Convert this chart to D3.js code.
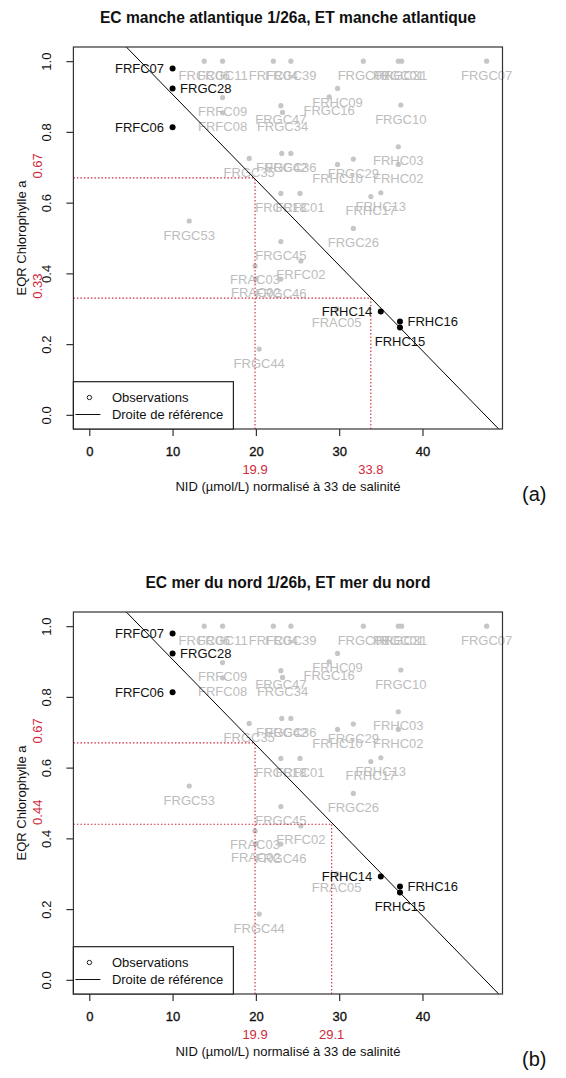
<!DOCTYPE html>
<html>
<head>
<meta charset="utf-8">
<script src="https://cdn.jsdelivr.net/npm/d3@7"></script>
<style>
  body { margin: 0; background: #fff; }
  svg { display: block; }
  text { font-family: "Liberation Sans", Arial, sans-serif; }
</style>
</head>
<body>
<svg id="chart" width="566" height="1078"></svg>
<script>
// Other water bodies (drawn in grey)
const greyNames = ["FRGC06","FRGC11","FRFC04","FRGC39","FRGC08","FRGC01","FRGC31","FRGC07",
  "FRFC09","FRFC08","FRGC47","FRGC34","FRHC09","FRGC16","FRGC10","FRHC03","FRHC02","FRGC29",
  "FRHC10","FRGC42","FRGC36","FRGC35","FRGC18","FRFC01","FRHC17","FRHC13","FRGC26","FRGC53",
  "FRGC45","FRFC02","FRAC03","FRAC02","FRGC46","FRGC44","FRAC05"];
const greyNid = [13.8,16.0,22.1,24.2,32.9,37.1,37.5,47.7,
  16.0,16.0,23.0,23.2,29.8,28.8,37.4,37.1,37.1,31.7,
  29.8,23.1,24.2,19.2,23.0,25.3,33.8,35.0,31.7,12.0,
  23.0,25.4,19.9,20.0,23.0,20.4,29.7];
const greyEqr = [1.0,1.0,1.0,1.0,1.0,1.0,1.0,1.0,
  0.897,0.854,0.874,0.855,0.923,0.899,0.876,0.758,0.708,0.723,
  0.708,0.739,0.739,0.725,0.626,0.626,0.617,0.628,0.527,0.548,
  0.490,0.435,0.421,0.385,0.384,0.186,0.300];

// Highlighted water bodies (drawn in black)
const keyNames = ["FRFC07","FRGC28","FRFC06","FRHC14","FRHC16","FRHC15"];
const keyNid = [10.0,10.0,10.0,35.0,37.3,37.3];
const keyEqr = [0.979,0.923,0.813,0.292,0.264,0.247];
const keySide = ["left","right","left","left","right","below"];

// Reference line: NID value at EQR = 1 and at EQR = 0
const refNid = [6.1, 47.5];
const refEqr = [1, 0];

// Axes
const xTicks = [0, 10, 20, 30, 40];
const yTicks = [0, 0.2, 0.4, 0.6, 0.8, 1.0];

// Panels
const panelTitles = ["EC manche atlantique 1/26a, ET manche atlantique",
                     "EC mer du nord 1/26b, ET mer du nord"];
const panelTags = ["(a)", "(b)"];
const classEqr = [[0.67, 0.33], [0.67, 0.44]];
const classNid = [[19.9, 33.8], [19.9, 29.1]];

const RED = "#d0283a";
const GREY_PT = "#c6c6c6";
const GREY_TX = "#bdbdbd";

const svg = d3.select("#chart");

function pad(ext) {
  const r = ext[1] - ext[0];
  return [ext[0] - 0.04 * r, ext[1] + 0.04 * r];
}

function drawPanel(p, dy) {
  const left = 73.4, right = 502.5, top = 47 + dy, bottom = 429 + dy;
  const allNid = [0].concat(greyNid, keyNid);
  const x = d3.scaleLinear().domain(pad(d3.extent(allNid))).range([left, right]);
  const y = d3.scaleLinear().domain(pad([0, 1])).range([bottom, top]);

  const g = svg.append("g");
  const clipId = "clip" + p;
  g.append("clipPath").attr("id", clipId)
    .append("rect").attr("x", left).attr("y", top)
    .attr("width", right - left).attr("height", bottom - top);

  // title
  g.append("text").attr("x", (left + right) / 2).attr("y", top - 24.5)
    .attr("text-anchor", "middle").attr("font-size", 15.6).attr("font-weight", "bold")
    .attr("fill", "#111").text(panelTitles[p]);

  // grey points and labels
  const gi = d3.range(greyNames.length);
  g.append("g").selectAll("circle").data(gi).join("circle")
    .attr("cx", i => x(greyNid[i])).attr("cy", i => y(greyEqr[i]))
    .attr("r", 2.6).attr("fill", GREY_PT);
  g.append("g").selectAll("text").data(gi).join("text")
    .attr("x", i => x(greyNid[i])).attr("y", i => y(greyEqr[i]) + 18.5)
    .attr("text-anchor", "middle").attr("font-size", 13).attr("fill", GREY_TX)
    .text(i => greyNames[i]);

  // class boundaries (dotted red)
  const clip = g.append("g").attr("clip-path", `url(#${clipId})`);
  classEqr[p].forEach((e, k) => {
    const n = classNid[p][k];
    clip.append("line").attr("x1", left).attr("x2", x(n))
      .attr("y1", y(e)).attr("y2", y(e))
      .attr("stroke", RED).attr("stroke-width", 1.1).attr("stroke-dasharray", "1.5,2");
    clip.append("line").attr("x1", x(n)).attr("x2", x(n))
      .attr("y1", bottom).attr("y2", y(e))
      .attr("stroke", RED).attr("stroke-width", 1.1).attr("stroke-dasharray", "1.5,2");
  });

  // reference line, extended across the plot
  const slope = (refEqr[1] - refEqr[0]) / (refNid[1] - refNid[0]);
  const f = v => refEqr[0] + slope * (v - refNid[0]);
  const xd = x.domain();
  clip.append("line")
    .attr("x1", x(xd[0])).attr("y1", y(f(xd[0])))
    .attr("x2", x(xd[1])).attr("y2", y(f(xd[1])))
    .attr("stroke", "#000").attr("stroke-width", 1);

  // highlighted points and labels
  const ki = d3.range(keyNames.length);
  g.append("g").selectAll("circle").data(ki).join("circle")
    .attr("cx", i => x(keyNid[i])).attr("cy", i => y(keyEqr[i]))
    .attr("r", 3).attr("fill", "#000");
  g.append("g").selectAll("text").data(ki).join("text")
    .attr("x", i => keySide[i] === "left" ? x(keyNid[i]) - 8.5
                  : keySide[i] === "right" ? x(keyNid[i]) + 7.5 : x(keyNid[i]))
    .attr("y", i => keySide[i] === "below" ? y(keyEqr[i]) + 18.5 : y(keyEqr[i]) + 4.6)
    .attr("text-anchor", i => keySide[i] === "left" ? "end" : keySide[i] === "right" ? "start" : "middle")
    .attr("font-size", 13).attr("fill", "#111")
    .text(i => keyNames[i]);

  // box
  g.append("rect").attr("x", left).attr("y", top)
    .attr("width", right - left).attr("height", bottom - top)
    .attr("fill", "none").attr("stroke", "#333").attr("stroke-width", 1.2);

  // x axis (tick labels are drawn twice over, hence heavier)
  const xa = g.append("g").attr("transform", `translate(0,${bottom})`)
    .call(d3.axisBottom(x).tickValues(xTicks).tickSize(7).tickPadding(11).tickFormat(d3.format("d")));
  xa.select(".domain").remove();
  xa.selectAll("line").attr("stroke", "#333").attr("stroke-width", 1.2);
  xa.selectAll("text").attr("font-size", 13).attr("fill", "#111")
    .attr("stroke", "#111").attr("stroke-width", 0.35)
    .attr("font-family", "Liberation Sans, Arial, sans-serif");

  // y axis (labels parallel to the axis)
  const ya = g.append("g").attr("transform", `translate(${left},0)`)
    .call(d3.axisLeft(y).tickValues(yTicks).tickSize(7).tickFormat(d3.format(".1f")));
  ya.select(".domain").remove();
  ya.selectAll("line").attr("stroke", "#333").attr("stroke-width", 1.2);
  ya.selectAll("text")
    .attr("x", null).attr("dy", null)
    .attr("text-anchor", "middle").attr("dominant-baseline", "central")
    .attr("transform", "translate(-27,0) rotate(-90)")
    .attr("font-size", 13).attr("fill", "#111")
    .attr("font-family", "Liberation Sans, Arial, sans-serif");

  // class boundary values
  classNid[p].forEach(n => {
    g.append("text").attr("x", x(n)).attr("y", bottom + 44.5)
      .attr("text-anchor", "middle").attr("font-size", 13).attr("fill", RED)
      .text(d3.format(".1f")(n));
  });
  classEqr[p].forEach(e => {
    g.append("text")
      .attr("transform", `translate(37,${y(e) - 12}) rotate(-90)`)
      .attr("text-anchor", "middle").attr("dominant-baseline", "central")
      .attr("font-size", 13).attr("fill", RED)
      .text(d3.format(".2f")(e));
  });

  // axis titles
  g.append("text").attr("x", (left + right) / 2).attr("y", bottom + 61.5)
    .attr("text-anchor", "middle").attr("font-size", 13).attr("fill", "#111")
    .text("NID (µmol/L) normalisé à 33 de salinité");
  g.append("text")
    .attr("transform", `translate(21,${(top + bottom) / 2}) rotate(-90)`)
    .attr("text-anchor", "middle").attr("dominant-baseline", "central")
    .attr("font-size", 13).attr("fill", "#111")
    .text("EQR Chlorophylle a");

  // legend
  const lg = g.append("g");
  lg.append("rect").attr("x", left).attr("y", bottom - 47.3)
    .attr("width", 160).attr("height", 47.3)
    .attr("fill", "#fff").attr("stroke", "#222").attr("stroke-width", 1.2);
  lg.append("circle").attr("cx", left + 16).attr("cy", bottom - 31.5)
    .attr("r", 2.2).attr("fill", "none").attr("stroke", "#222").attr("stroke-width", 1);
  lg.append("line").attr("x1", left + 2).attr("x2", left + 27)
    .attr("y1", bottom - 14.5).attr("y2", bottom - 14.5)
    .attr("stroke", "#111").attr("stroke-width", 1);
  lg.append("text").attr("x", left + 38.5).attr("y", bottom - 27)
    .attr("font-size", 13).attr("fill", "#111").text("Observations");
  lg.append("text").attr("x", left + 38.5).attr("y", bottom - 10)
    .attr("font-size", 13).attr("fill", "#111").text("Droite de référence");

  // panel tag
  svg.append("text").attr("x", 522).attr("y", bottom + 72)
    .attr("font-size", 20).attr("fill", "#111")
    .attr("font-family", "Open Sans, sans-serif")
    .text(panelTags[p]);
}

drawPanel(0, 0);
drawPanel(1, 565);
</script>
</body>
</html>
